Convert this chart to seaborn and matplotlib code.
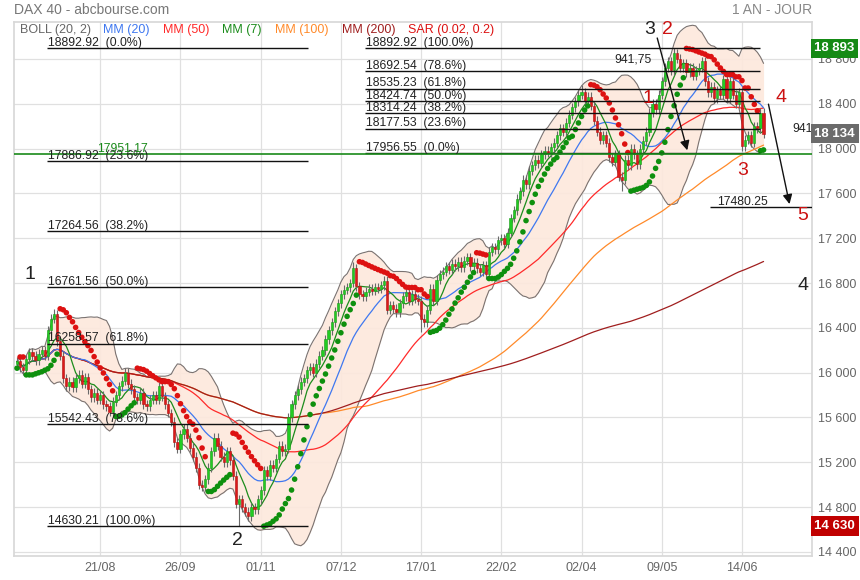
import numpy as np
import pandas as pd
import matplotlib
matplotlib.use("Agg")
import matplotlib.pyplot as plt
import seaborn as sns

sns.set_theme(style="white")
plt.rcParams['font.family'] = ['Liberation Sans', 'DejaVu Sans']

# daily closes (mid-July 2023 -> late June 2024)
closes = [
    16100, 16050, 16020, 16120, 16180, 16150, 16110, 16170, 16200, 16150,
    16380, 16480, 16520, 16280, 16150, 15950, 15880, 15920, 15870, 15950,
    15980, 15900, 15960, 15850, 15780, 15820, 15760, 15800, 15720, 15700,
    15650, 15740, 15800, 15880, 15930, 16000, 15900, 15850, 15780, 15760,
    15820, 15720, 15700, 15760, 15800, 15760, 15880, 15790, 15720, 15640,
    15560, 15380, 15320, 15450, 15500, 15420, 15330, 15250, 15150, 15000,
    14980, 15050, 15150, 15300, 15420, 15350, 15250, 15200, 15300, 15220,
    15080, 14830, 14870, 14800, 14760, 14720, 14800, 14780, 14870, 14950,
    15130, 15080, 15180, 15150, 15230, 15350, 15300, 15320, 15600, 15720,
    15800, 15850, 15920, 15950, 16020, 16050, 16000, 16080, 16150, 16200,
    16300, 16380, 16450, 16550, 16620, 16700, 16740, 16760, 16800, 16930,
    16770, 16700, 16680, 16720, 16750, 16730, 16760, 16750, 16780, 16820,
    16560, 16600, 16570, 16540, 16620, 16680, 16720, 16640, 16700, 16660,
    16640, 16480, 16450, 16560, 16750, 16640, 16830, 16880, 16900, 16950,
    16920, 16970, 16950, 16990, 16940, 17000, 17030, 16950, 16980, 16930,
    16900, 16960, 16880, 17080, 17120, 17100, 17180, 17200, 17150, 17250,
    17380, 17450, 17550, 17620, 17720, 17680, 17800, 17850, 17900, 17870,
    17950, 17980, 17960, 18010, 18050, 18120, 18180, 18150, 18230, 18300,
    18370, 18420, 18480, 18500, 18420, 18460, 18380, 18250, 18150, 18080,
    18120, 18050, 17920, 17880, 17950, 17750, 17720, 17900, 17850, 18000,
    17950, 17860, 18000, 18070, 18150, 18320, 18400, 18350, 18480, 18600,
    18720, 18780, 18700, 18850, 18800, 18720, 18760, 18680, 18720, 18650,
    18700, 18720, 18780, 18600, 18500, 18550, 18450, 18520, 18480, 18620,
    18450, 18600, 18480, 18400, 18500, 18020, 18080, 18120, 18050, 18200,
    18180, 18320, 18134,
]
first_open = 16080
wick = 40
extra_highs = {12: 16570, 109: 16990, 183: 18570, 213: 18893}
extra_lows = {72: 14630, 131: 16360, 196: 17620}

tick_pos = [27, 53, 79, 105, 131, 157, 183, 209, 235]
tick_labels = ['21/08', '26/09', '01/11', '07/12', '17/01', '22/02', '02/04', '09/05', '14/06']
y_ticks = [14400, 14800, 15200, 15600, 16000, 16400, 16800, 17200, 17600, 18000, 18400, 18800]

fib_left = [18892.92, 17886.92, 17264.56, 16761.56, 16258.57, 15542.43, 14630.21]
fib_left_pct = ['0.0%', '23.6%', '38.2%', '50.0%', '61.8%', '78.6%', '100.0%']
fib_right = [18892.92, 18692.54, 18535.23, 18424.74, 18314.24, 18177.53, 17956.55]
fib_right_pct = ['100.0%', '78.6%', '61.8%', '50.0%', '38.2%', '23.6%', '0.0%']
support = 17951.17
target = 17480.25

wave_black = [('1', 4.2, 16880), ('2', 71.3, 14500), ('3', 205.2, 19060), ('4', 254.8, 16775)]
wave_red = [('1', 204.6, 18450), ('2', 211.0, 19060), ('3', 235.3, 17800), ('4', 247.6, 18455), ('5', 254.8, 17405)]

last_price = 18134
high_price = 18893
low_price = 14630

# ---- build candles / indicators ----
c = np.array(closes, dtype=float)
n = len(c)
idx = np.arange(n)
o = np.concatenate([[first_open], c[:-1]])
hi = np.maximum(o, c) + wick
lo = np.minimum(o, c) - wick
for k, v in extra_highs.items():
    hi[k] = v
for k, v in extra_lows.items():
    lo[k] = v

s = pd.Series(c)
mm7 = s.rolling(7, min_periods=1).mean()
mm20 = s.rolling(20, min_periods=1).mean()
mm50 = s.rolling(50, min_periods=1).mean()
mm100 = s.rolling(100, min_periods=1).mean()
mm200 = s.rolling(200, min_periods=1).mean()
sd20 = s.rolling(20, min_periods=1).std(ddof=0)
boll_up = mm20 + 2 * sd20
boll_dn = mm20 - 2 * sd20


def psar(high, low, af0=0.02, afmax=0.2):
    sar = np.zeros(len(high))
    up = np.zeros(len(high), dtype=bool)
    trend_up = True
    ep, cur, af = high[0], low[0], af0
    sar[0], up[0] = cur, True
    for i in range(1, len(high)):
        cur = cur + af * (ep - cur)
        if trend_up:
            cur = min(cur, low[i - 1], low[max(i - 2, 0)])
            if low[i] < cur:
                trend_up, cur, ep, af = False, ep, low[i], af0
            elif high[i] > ep:
                ep, af = high[i], min(af + af0, afmax)
        else:
            cur = max(cur, high[i - 1], high[max(i - 2, 0)])
            if high[i] > cur:
                trend_up, cur, ep, af = True, ep, high[i], af0
            elif low[i] < ep:
                ep, af = low[i], min(af + af0, afmax)
        sar[i], up[i] = cur, trend_up
    return sar, up


sar, sar_up = psar(hi, lo)

# ---- figure ----
fig = plt.figure(figsize=(8.6, 5.8), dpi=100)
ax = fig.add_axes([14 / 860, 24 / 580, 798 / 860, 534 / 580])
ax.set_xlim(-0.97, 257.7)
ax.set_ylim(14364, 19129)

ax.set_xticks(tick_pos)
ax.set_xticklabels(tick_labels, color='#666', fontsize=9,
                   family=['Liberation Sans Narrow', 'Liberation Sans', 'DejaVu Sans'])
ax.yaxis.tick_right()
ax.set_yticks(y_ticks)
ax.set_yticklabels([f"{v:,}".replace(",", " ") for v in y_ticks], color='#666', fontsize=9)
ax.tick_params(length=0, pad=4)
ax.grid(True, color='#e0e0e0', lw=0.9)
ax.set_axisbelow(True)
for sp in ax.spines.values():
    sp.set_color('#d8d8d8')

# bollinger
ax.fill_between(idx, boll_dn, boll_up, color='#fde8dc', alpha=0.9, lw=0, zorder=1)
ax.plot(idx, boll_up, color='#7a7270', lw=0.8, zorder=2)
ax.plot(idx, boll_dn, color='#7a7270', lw=0.8, zorder=2)

# moving averages
for series, col in [(mm100, '#ff8a2a'), (mm50, '#ff2a2a'), (mm200, '#a01e1e'),
                    (mm20, '#3f78f0'), (mm7, '#1c8c1c')]:
    sns.lineplot(x=idx, y=series.values, ax=ax, color=col, lw=0.9, zorder=3)

# candles
up = c >= o
col = np.where(up, '#22cc22', '#dd1a1a')
ax.vlines(idx, lo, hi, color='#6a6a6a', lw=0.8, zorder=4)
body = np.maximum(np.abs(c - o), 12)
ax.bar(idx, body, bottom=np.minimum(o, c), width=0.72, color=col,
       edgecolor=np.where(up, '#1a9a1a', '#b01010'), lw=0.4, zorder=5)

# parabolic SAR
sar_df = pd.DataFrame({'i': idx, 'sar': sar, 'side': np.where(sar_up, 'up', 'down')})
sns.scatterplot(data=sar_df, x='i', y='sar', hue='side',
                palette={'up': '#0e900e', 'down': '#dd1111'},
                s=16, linewidth=0, legend=False, ax=ax, zorder=6)
ax.set_xlabel('')
ax.set_ylabel('')

# fibonacci retracements
fib_fs = 8.8
for v, p in zip(fib_left, fib_left_pct):
    ax.hlines(v, 9.7, 94.3, color='#111', lw=1, zorder=7)
    ax.text(10.0, v + 20, f"{v:.2f}  ({p})", fontsize=fib_fs, color='#222', va='baseline', zorder=8)
for v, p in zip(fib_right, fib_right_pct):
    ax.hlines(v, 112.8, 240.8, color='#111', lw=1, zorder=7)
    ax.text(113.2, v + 20, f"{v:.2f}  ({p})", fontsize=fib_fs, color='#222', va='baseline', zorder=8)

ax.axhline(support, color='#1a8a1a', lw=1.2, zorder=7)
ax.text(26.0, support + 20, f"{support:.2f}", color='#1a8a1a', fontsize=fib_fs, va='baseline', zorder=8)

ax.hlines(target, 224.6, 257.7, color='#111', lw=1, zorder=7)
ax.text(227.0, target + 20, f"{target:.2f}", fontsize=fib_fs, color='#222', va='baseline', zorder=8)

# projection arrows
arrow = dict(arrowstyle='-|>', color='#111', lw=1, mutation_scale=14)
ax.annotate('', xy=(217.5, 17960), xytext=(207.3, 19010), arrowprops=arrow, zorder=9)
ax.annotate('', xy=(250.6, 17480), xytext=(243.4, 18420), arrowprops=arrow, zorder=9)
ax.text(205.8, 18790, "941,75", fontsize=fib_fs, color='#222', ha='right', va='center', zorder=9)
ax.text(251.2, 18170, "941", fontsize=fib_fs, color='#222', ha='left', va='center', zorder=9)

# elliott wave labels
for t, x, y in wave_black:
    ax.text(x, y, t, fontsize=14, color='#222', ha='center', va='center', zorder=9)
for t, x, y in wave_red:
    ax.text(x, y, t, fontsize=14, color='#cc1111', ha='center', va='center', zorder=9)

# indicator legend row
legend_items = [('BOLL (20, 2)', '#666666', 20), ('MM (20)', '#3f78f0', 103),
                ('MM (50)', '#ff2a2a', 163), ('MM (7)', '#1c8c1c', 222),
                ('MM (100)', '#ff8a2a', 275), ('MM (200)', '#a01e1e', 342),
                ('SAR (0.02, 0.2)', '#dd1111', 408)]
for t, colr, px in legend_items:
    ax.text((px - 14) / 798, (556 - 30) / 534, t, transform=ax.transAxes,
            fontsize=9, color=colr, va='center', zorder=9)

# price badges on the right axis
trans = ax.get_yaxis_transform()
for v, fc in [(high_price, '#158a15'), (last_price, '#6b6b6b'), (low_price, '#c00000')]:
    ax.text(1.003, v, f"{v:,}".replace(",", " "), transform=trans, fontsize=9.5,
            color='white', weight='bold', va='center', ha='left', clip_on=False, zorder=10,
            bbox=dict(boxstyle='square,pad=0.28', fc=fc, ec='none'))

fig.text(14 / 860, 1 - 10 / 580, "DAX 40 - abcbourse.com", color='#777', fontsize=10, va='center')
fig.text(812 / 860, 1 - 10 / 580, "1 AN - JOUR", color='#888', fontsize=10, va='center', ha='right')

fig.savefig('out.png', dpi=100, facecolor='white')
